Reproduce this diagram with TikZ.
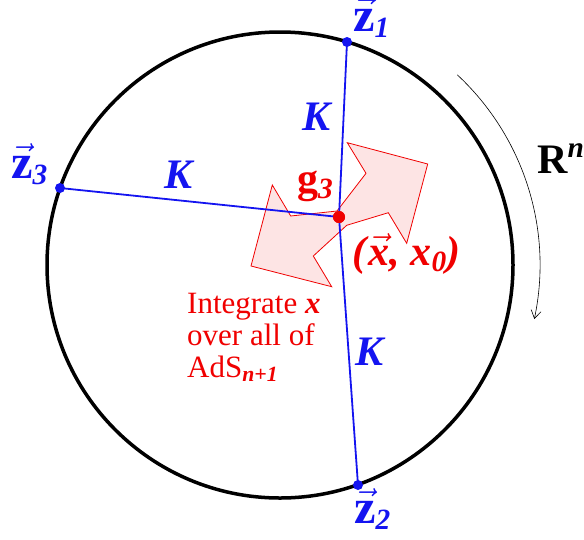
\RequirePackage{fix-cm}
\documentclass[tikz,border=0pt]{standalone}
\usepackage{amsmath}
\usepackage{graphicx}
\usepackage{fontspec}
\setmainfont{Liberation Serif}
\usetikzlibrary{arrows.meta}
\definecolor{myblue}{RGB}{20,20,240}
\definecolor{myred}{RGB}{240,0,0}
\definecolor{mypink}{RGB}{253,228,228}
\newcommand{\bi}[1]{\textbf{\textit{#1}}}
\newcommand{\zvec}{\vec{\scalebox{1.15}{$\mathbf{z}$}}}
\begin{document}
\begin{tikzpicture}[x=1pt,y=-1pt,
  lbl/.style={anchor=base west,inner sep=0pt,font=\fontsize{42}{44}\selectfont},
  bluelbl/.style={lbl,text=myblue},
  redlbl/.style={lbl,text=myred},
  conn/.style={myblue,line width=1.8pt},
  bdot/.style={circle,fill=myblue,inner sep=0pt,minimum size=10pt},
  rdot/.style={circle,fill=myred,inner sep=0pt,minimum size=12pt}]
\useasboundingbox (0,0) rectangle (584,539);
% region
\filldraw[fill=mypink,draw=myred,line width=0.8pt]
  (347.3,142.7) -- (427.7,164) -- (406.7,243.3) -- (388.3,212.7) -- (346.7,225.3)
  -- (313.3,256) -- (331.7,286.7) -- (251,266) -- (272.3,185) -- (290.7,216)
  -- (337,211) -- (366,173.3) -- cycle;
% boundary circle
\node[circle,draw=black,line width=3.5pt,minimum size=466pt,inner sep=0pt] (bd) at (280,265) {};
% points
\node[bdot] (z1) at (347,42) {};
\node[bdot] (z2) at (358,485) {};
\node[bdot] (z3) at (60,188) {};
\node[rdot] (x) at (339,217) {};
\draw[conn] (x.center) -- (z1.center);
\draw[conn] (x.center) -- (z2.center);
\draw[conn] (x.center) -- (z3.center);
\node[rdot] at (339,217) {};
% arc arrow
\coordinate (c) at (280,265);
\draw[-{Straight Barb[length=8pt,width=10pt]},line width=0.6pt] ([shift={(47:260pt)}]c) arc[start angle=47,end angle=-12,radius=260pt];
% labels
\node[bluelbl] (lz1) at (353,31) {$\zvec_{\bi{1}}$};
\node[bluelbl] (lz3) at (11,178) {$\zvec_{\bi{3}}$};
\node[bluelbl] (lz2) at (354,523) {$\zvec_{\bi{2}}$};
\node[bluelbl] (k1) at (302,130) {\bi{K}};
\node[bluelbl] (k3) at (164,188) {\bi{K}};
\node[bluelbl] (k2) at (355,365) {\bi{K}};
\node[redlbl] (g) at (297,192) {\textbf{g}$_{\bi{3}}$};
\node[redlbl] (pt) at (352,265) {\bi{(}$\vec{\bi{x}}$\bi{, x}$_{\bi{0}}$\bi{)}};
\node[lbl] (rn) at (537,173) {$\mathbf{R}^{\bi{n}}$};
\node[anchor=base west,inner sep=0pt,text=myred,align=left,font=\fontsize{31}{32}\selectfont] (int) at (187,377)
  {Integrate \bi{x}\\over all of\\AdS$_{\bi{n+1}}$};
\end{tikzpicture}
\end{document}
